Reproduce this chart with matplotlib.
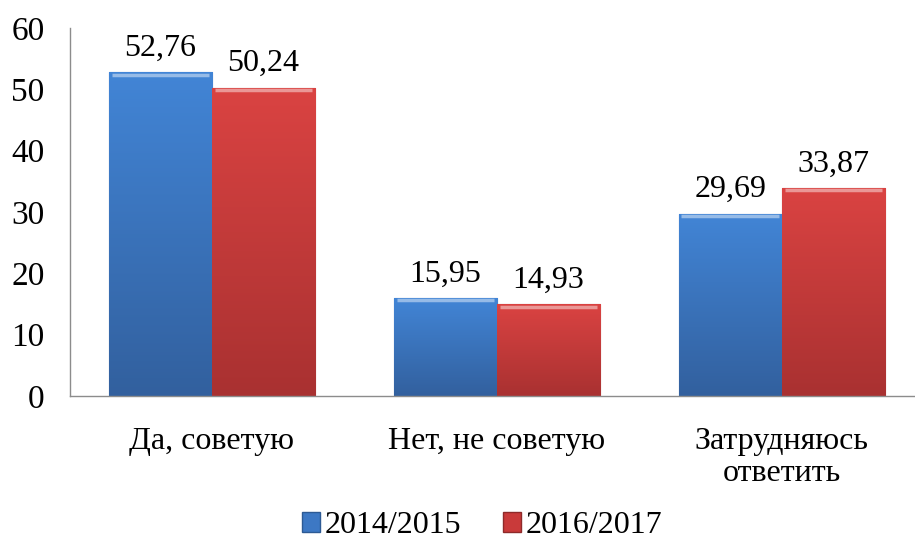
import matplotlib
matplotlib.use("Agg")
import matplotlib.pyplot as plt
import numpy as np
from matplotlib.colors import LinearSegmentedColormap
from matplotlib.patches import Patch

categories = ["Да, советую", "Нет, не советую", "Затрудняюсь\nответить"]
series_names = ["2014/2015", "2016/2017"]
values_2014 = [52.76, 15.95, 29.69]
values_2016 = [50.24, 14.93, 33.87]

plt.rcParams['font.family'] = ['Liberation Serif', 'DejaVu Serif']

fig = plt.figure(figsize=(9.15, 5.42), dpi=100)
ax = fig.add_axes([0.076, 0.2694, 0.934, 0.679])

x = np.arange(len(categories))
width = 0.362

# gradient colours (top -> bottom, edge)
grads = [("#4285d6", "#32609e", "#2d5a94"), ("#da4342", "#a93131", "#8e2a2a")]

for i, (vals, (ctop, cbot, cedge)) in enumerate(zip([values_2014, values_2016], grads)):
    offs = (i - 0.5) * width
    bars = ax.bar(x + offs, vals, width, color=ctop, edgecolor=cedge, linewidth=0.8, zorder=2)
    cmap = LinearSegmentedColormap.from_list("g%d" % i, [cbot, ctop])
    for b, v in zip(bars, vals):
        x0 = b.get_x()
        grad = np.linspace(0, 1, 256).reshape(-1, 1)
        im = ax.imshow(grad, cmap=cmap, aspect='auto', origin='lower',
                       extent=[x0, x0 + width, 0, v], zorder=2.5)
        im.set_clip_path(b)
        # light bevel on top
        ax.plot([x0 + 0.01, x0 + width - 0.01], [v - 0.35, v - 0.35],
                color="white", alpha=0.45, lw=2.5, zorder=3, solid_capstyle='butt')
        ax.annotate(f"{v:.2f}".replace(".", ","), (x0 + width / 2, v),
                    xytext=(0, 7), textcoords="offset points",
                    ha="center", va="bottom", fontsize=23, color="black")

ax.set_xlim(-0.5, 2.5)
ax.set_ylim(0, 60)
ax.set_yticks(range(0, 61, 10))
ax.set_xticks(x)
ax.set_xticklabels(categories, linespacing=1.15)
ax.tick_params(axis='y', length=0, pad=18, labelsize=24)
ax.tick_params(axis='x', length=0, pad=22, labelsize=23)
for s in ["top", "right"]:
    ax.spines[s].set_visible(False)
for s in ["left", "bottom"]:
    ax.spines[s].set_color("#8c8c8c")
    ax.spines[s].set_linewidth(1)

handles = [Patch(facecolor="#3d78c4", edgecolor="#2d5a94"),
           Patch(facecolor="#c93a3a", edgecolor="#8e2a2a")]
fig.legend(handles, series_names, loc="center", bbox_to_anchor=(0.527, 0.03),
           ncol=2, frameon=False, fontsize=23, handlelength=0.55, handleheight=0.55,
           handletextpad=0.15, columnspacing=1.3, borderpad=0.05)

fig.savefig("out.png", dpi=100)
